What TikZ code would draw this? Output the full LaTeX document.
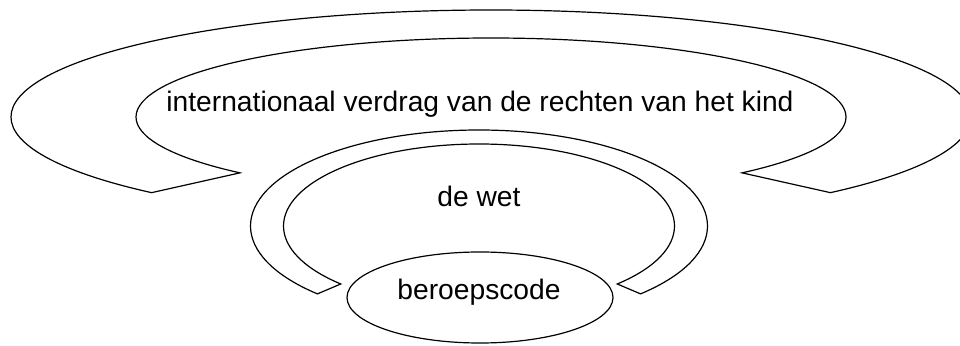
\documentclass[tikz,border=0pt]{standalone}
\usepackage{fontspec}
\setmainfont{Liberation Sans}
\usetikzlibrary{shapes.geometric,calc}

\tikzset{
  band/.style={draw=black, line width=1.2pt, fill=white, line join=miter},
  label/.style={font=\fontsize{28.2}{30}\selectfont, inner sep=0pt},
}

\begin{document}
\begin{tikzpicture}[x=1pt,y=1pt]
    \useasboundingbox (0,0) rectangle (960,345);
    \fill[white] (0,0) rectangle (960,345);
    \clip (0,0) rectangle (960,345);
    \coordinate (verdragc) at (491,228);
    \coordinate (wetc) at (479,119);
    % outer band: verdrag
    \draw[band] (verdragc) ++(225:480 and 107)
        arc[start angle=225, end angle=-45, x radius=480, y radius=107]
        -- ($(verdragc)+(-45:355 and 79)$)
        arc[start angle=-45, end angle=225, x radius=355, y radius=79]
        -- cycle;
    % middle band: wet
    \draw[band] (wetc) ++(225:228.5 and 96)
        arc[start angle=225, end angle=-45, x radius=228.5, y radius=96]
        -- ($(wetc)+(-45:195.5 and 82)$)
        arc[start angle=-45, end angle=225, x radius=195.5, y radius=82]
        -- cycle;
    \node[label, anchor=base] (verdrag) at (480,233) {internationaal verdrag van de rechten van het kind};
    \node[label, anchor=base] (wet) at (479,138) {de wet};
    \node[band, ellipse, minimum width=266pt, minimum height=91pt, inner sep=0pt] (code) at (480,47.5) {};
    \node[label, anchor=base] (codetext) at (479,45) {beroepscode};
  \end{tikzpicture}
\end{document}
